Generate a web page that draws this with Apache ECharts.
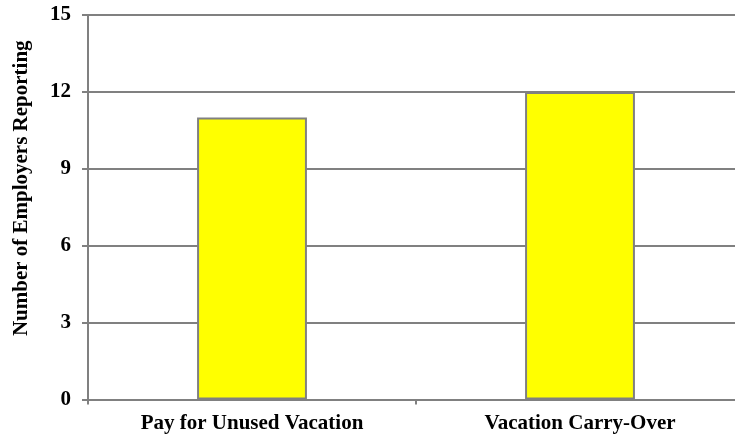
<!DOCTYPE html>
<html><head><meta charset="utf-8">
<script src="https://cdn.jsdelivr.net/npm/echarts@6/dist/echarts.min.js"></script>
<style>html,body{margin:0;padding:0;background:#fff}#c{width:735px;height:441px}</style>
</head><body><div id="c"></div>
<script>
var categories = ['Pay for Unused Vacation', 'Vacation Carry-Over'];
var values = [11, 12];
var yTicks = [0, 3, 6, 9, 12, 15];

var chart = echarts.init(document.getElementById('c'));
var font = '"Liberation Serif", "Times New Roman", serif';
chart.setOption({
  animation: false,
  grid: { left: 88, width: 656, top: 15, bottom: 41.5, containLabel: false, outerBoundsMode: 'none' },
  xAxis: {
    type: 'category', data: categories,
    axisLine: { lineStyle: { color: '#808080', width: 2 } },
    axisTick: { show: true, length: 5, lineStyle: { color: '#808080', width: 2 } },
    axisLabel: { fontFamily: font, fontWeight: 'bold', fontSize: 21, color: '#000', margin: 14 }
  },
  yAxis: {
    type: 'value', min: yTicks[0], max: yTicks[yTicks.length - 1], interval: 3,
    name: 'Number of Employers Reporting', nameLocation: 'middle', nameGap: 56,
    nameTextStyle: { fontFamily: font, fontWeight: 'bold', fontSize: 21, color: '#000', padding: [0, 0, 0, 38] },
    axisLine: { show: true, lineStyle: { color: '#808080', width: 2 } },
    axisTick: { show: true, length: 6, lineStyle: { color: '#808080', width: 2 } },
    axisLabel: { fontFamily: font, fontWeight: 'bold', fontSize: 21, color: '#000', margin: 17 },
    splitLine: { show: true, lineStyle: { color: '#808080', width: 2 } }
  },
  series: [{
    type: 'bar', data: values, barWidth: '33.5%',
    itemStyle: { color: '#ffff00', borderColor: '#808080', borderWidth: 2 }
  }]
});
</script></body></html>
